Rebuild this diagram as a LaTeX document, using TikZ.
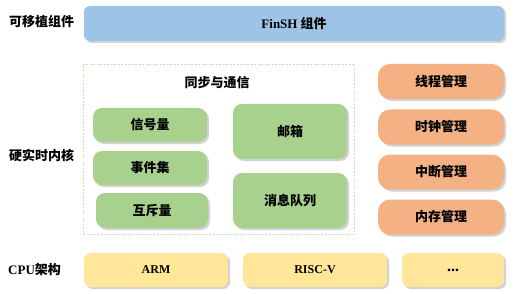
\documentclass[tikz,border=0pt]{standalone}
\usepackage{fontspec}
\setmainfont{Noto Sans CJK SC}
\newfontfamily\lat{Liberation Serif}
\definecolor{portblue}{RGB}{157, 195, 230}
\definecolor{ipcgreen}{RGB}{169, 209, 142}
\definecolor{mgrorange}{RGB}{244, 177, 131}
\definecolor{cpuyellow}{RGB}{255, 230, 153}
\definecolor{framegreen}{RGB}{197, 224, 180}
\usetikzlibrary{shadows, positioning}

\begin{document}
\begin{tikzpicture}[x=1pt, y=-1pt,
  layer/.style={anchor=west, font=\fontsize{13}{15}\selectfont\bfseries, inner sep=0pt},
  blk/.style={inner sep=0pt, outer sep=0pt, font=\fontsize{13}{15}\selectfont\bfseries,
    drop shadow={shadow xshift=2pt, shadow yshift=-2pt, fill=black!35}},
  ipc/.style={blk, fill=ipcgreen, rounded corners=9pt, minimum width=114pt, minimum height=34pt},
  mgr/.style={blk, fill=mgrorange, rounded corners=12pt, minimum width=126pt, minimum height=35pt},
  cpu/.style={blk, fill=cpuyellow, rounded corners=7pt, minimum height=34pt, font=\lat\fontsize{12}{14}\selectfont\bfseries}
]
  \useasboundingbox (0,0) rectangle (516,294);
  % layer labels
  \node[layer] (lport) at (9,22) {可移植组件};
  \node[layer] (lkernel) at (9,155) {硬实时内核};
  \node[layer] (lcpu) at (8,270) {{\lat CPU}架构};
  % portable components
  \node[blk, fill=portblue, rounded corners=6pt, minimum width=420pt, minimum height=35pt] (finsh) at (294,23.5) {{\lat FinSH} 组件};
  % synchronisation and communication
  \node[draw=framegreen, dash pattern=on 2pt off 1.5pt, inner sep=0pt, minimum width=271pt, minimum height=170pt] (sync) at (218.5,149) {};
  \node[font=\fontsize{13}{15}\selectfont\bfseries, inner sep=0pt] (synctitle) at (217,83) {同步与通信};
  \node[ipc] (sem) at (150,125) {信号量};
  \node[ipc] (event) at (150,168) {事件集};
  \node[ipc, minimum width=112pt, minimum height=35pt] (mutex) at (152,210.5) {互斥量};
  \node[ipc, minimum height=55pt] (mailbox) at (290,131.5) {邮箱};
  \node[ipc, minimum height=55pt] (msgq) at (290,200.5) {消息队列};
  % kernel managers
  \node[mgr] (thread) at (441,81.5) {线程管理};
  \node[mgr] (clock) at (441,127) {时钟管理};
  \node[mgr] (irq) at (441,172) {中断管理};
  \node[mgr] (mem) at (441,217) {内存管理};
  % cpu architectures
  \node[cpu, minimum width=144pt] (arm) at (156,270) {ARM};
  \node[cpu, minimum width=144pt] (riscv) at (315,270) {RISC-V};
  \node[cpu, minimum width=102pt, font=\lat\fontsize{16}{18}\selectfont\bfseries] (more) at (453,270) {...};
\end{tikzpicture}
\end{document}
